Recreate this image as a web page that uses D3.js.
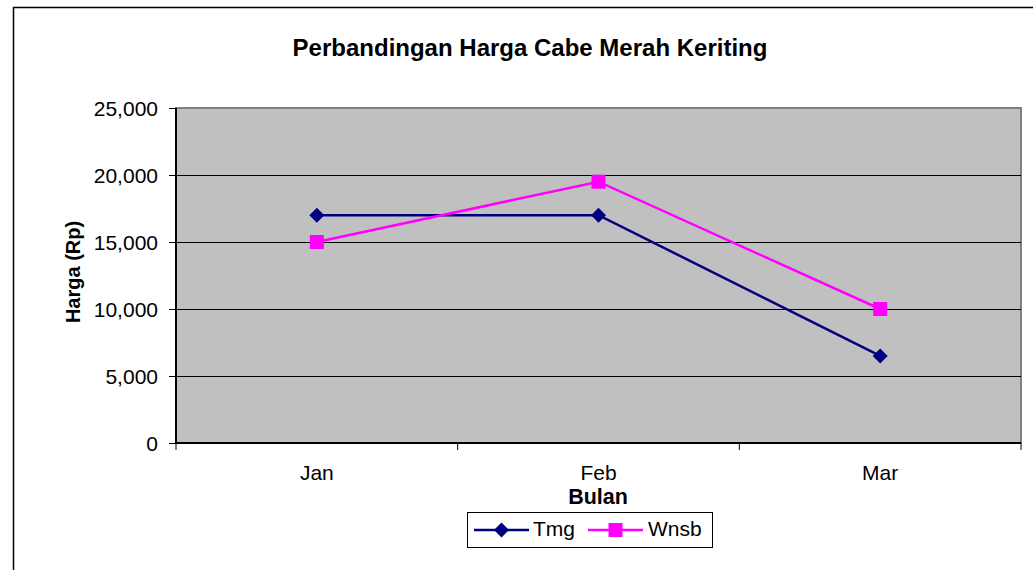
<!DOCTYPE html>
<html><head><meta charset="utf-8">
<script src="https://cdn.jsdelivr.net/npm/d3@7/dist/d3.min.js"></script>
<style>body{margin:0;background:#fff}svg{display:block;font-family:"Liberation Sans",Arial,sans-serif}</style>
</head><body><svg id="c" width="1033" height="570"></svg>
<script>
const categories = ["Jan", "Feb", "Mar"];
const seriesNames = ["Tmg", "Wnsb"];
const tmgValues = [17000, 17000, 6500];
const wnsbValues = [15000, 19500, 10000];
const yTicks = [0, 5000, 10000, 15000, 20000, 25000];
const titleText = "Perbandingan Harga Cabe Merah Keriting";
const xTitle = "Bulan";
const yTitle = "Harga (Rp)";

const svg = d3.select("#c");
const L = 176, R = 1021, T = 108, B = 443;
svg.append("rect").attr("x", 13.5).attr("y", 7.5).attr("width", 1040).attr("height", 600)
  .attr("fill", "#fff").attr("stroke", "#000").attr("stroke-width", 1.5);

const x = d3.scaleBand().domain(categories).range([L, R]).padding(0);
const y = d3.scaleLinear().domain([0, 25000]).range([B, T]);
const fmt = d3.format(",");

svg.append("rect").attr("x", L).attr("y", T).attr("width", R - L).attr("height", B - T)
  .attr("fill", "#c0c0c0").attr("stroke", "#808080").attr("stroke-width", 2);

// gridlines
svg.append("g").selectAll("line").data(yTicks.filter(d => d > 0 && d < 25000)).join("line")
  .attr("x1", L).attr("x2", R).attr("y1", d => Math.round(y(d)) + 0.5).attr("y2", d => Math.round(y(d)) + 0.5)
  .attr("stroke", "#000").attr("stroke-width", 1);

// y axis
const yAxis = svg.append("g").attr("transform", `translate(${L},0)`)
  .call(d3.axisLeft(y).tickValues(yTicks).tickFormat(fmt).tickSize(7).tickPadding(11));
yAxis.select(".domain").attr("stroke", "#000").attr("stroke-width", 2).attr("d", `M0,${T}V${B}`);
yAxis.selectAll(".tick line").attr("stroke", "#000");
yAxis.selectAll("text").attr("font-size", 21).attr("fill", "#000").attr("font-family", "Liberation Sans, Arial").attr("dy", "0.35em");

// x axis
const xAxis = svg.append("g").attr("transform", `translate(0,${B})`)
  .call(d3.axisBottom(x).tickSize(0).tickPadding(0));
xAxis.select(".domain").attr("stroke", "#000").attr("stroke-width", 2).attr("d", `M${L},0H${R}`);
xAxis.selectAll("text").attr("font-size", 21).attr("fill", "#000").attr("font-family", "Liberation Sans, Arial")
  .attr("y", 37).attr("dy", 0);
// boundary ticks
const bounds = categories.map(c => x(c)).concat([R]);
svg.append("g").selectAll("line").data(bounds).join("line")
  .attr("x1", d => d).attr("x2", d => d).attr("y1", B).attr("y2", B + 7)
  .attr("stroke", "#000").attr("stroke-width", 1);

const cx = c => x(c) + x.bandwidth() / 2;
const line = d3.line().x((d, i) => cx(categories[i])).y(d => y(d));

const series = [
  {name: seriesNames[0], values: tmgValues, color: "#000080", shape: "diamond"},
  {name: seriesNames[1], values: wnsbValues, color: "#ff00ff", shape: "square"}
];
function marker(g, shape, color, px, py) {
  if (shape === "diamond") {
    g.append("path").attr("d", `M${px},${py-7.5}L${px+7.5},${py}L${px},${py+7.5}L${px-7.5},${py}Z`).attr("fill", color);
  } else {
    g.append("rect").attr("x", px - 7).attr("y", py - 7).attr("width", 14).attr("height", 14).attr("fill", color);
  }
}
series.forEach(s => {
  svg.append("path").datum(s.values).attr("d", line).attr("fill", "none")
    .attr("stroke", s.color).attr("stroke-width", 2.5);
});
series.forEach(s => {
  const g = svg.append("g");
  s.values.forEach((v, i) => marker(g, s.shape, s.color, cx(categories[i]), y(v)));
});

// titles
svg.append("text").attr("x", 530).attr("y", 56).attr("text-anchor", "middle")
  .attr("font-size", 24).attr("font-weight", "bold").text(titleText);
svg.append("text").attr("x", 598).attr("y", 504).attr("text-anchor", "middle")
  .attr("font-size", 21.5).attr("font-weight", "bold").text(xTitle);
svg.append("text").attr("transform", "translate(80,272) rotate(-90)").attr("text-anchor", "middle")
  .attr("font-size", 20).attr("font-weight", "bold").text(yTitle);

// legend
const lg = svg.append("g");
lg.append("rect").attr("x", 467.5).attr("y", 512.5).attr("width", 245).attr("height", 35)
  .attr("fill", "#fff").attr("stroke", "#000").attr("stroke-width", 1);
const legendPos = [{x0: 474, tx: 533}, {x0: 588, tx: 648}];
series.forEach((s, i) => {
  const p = legendPos[i];
  lg.append("line").attr("x1", p.x0).attr("x2", p.x0 + 55).attr("y1", 530).attr("y2", 530)
    .attr("stroke", s.color).attr("stroke-width", 2.5);
  marker(lg, s.shape, s.color, p.x0 + 27.5, 530);
  lg.append("text").attr("x", p.tx).attr("y", 536).attr("font-size", 21).text(s.name);
});
</script></body></html>
